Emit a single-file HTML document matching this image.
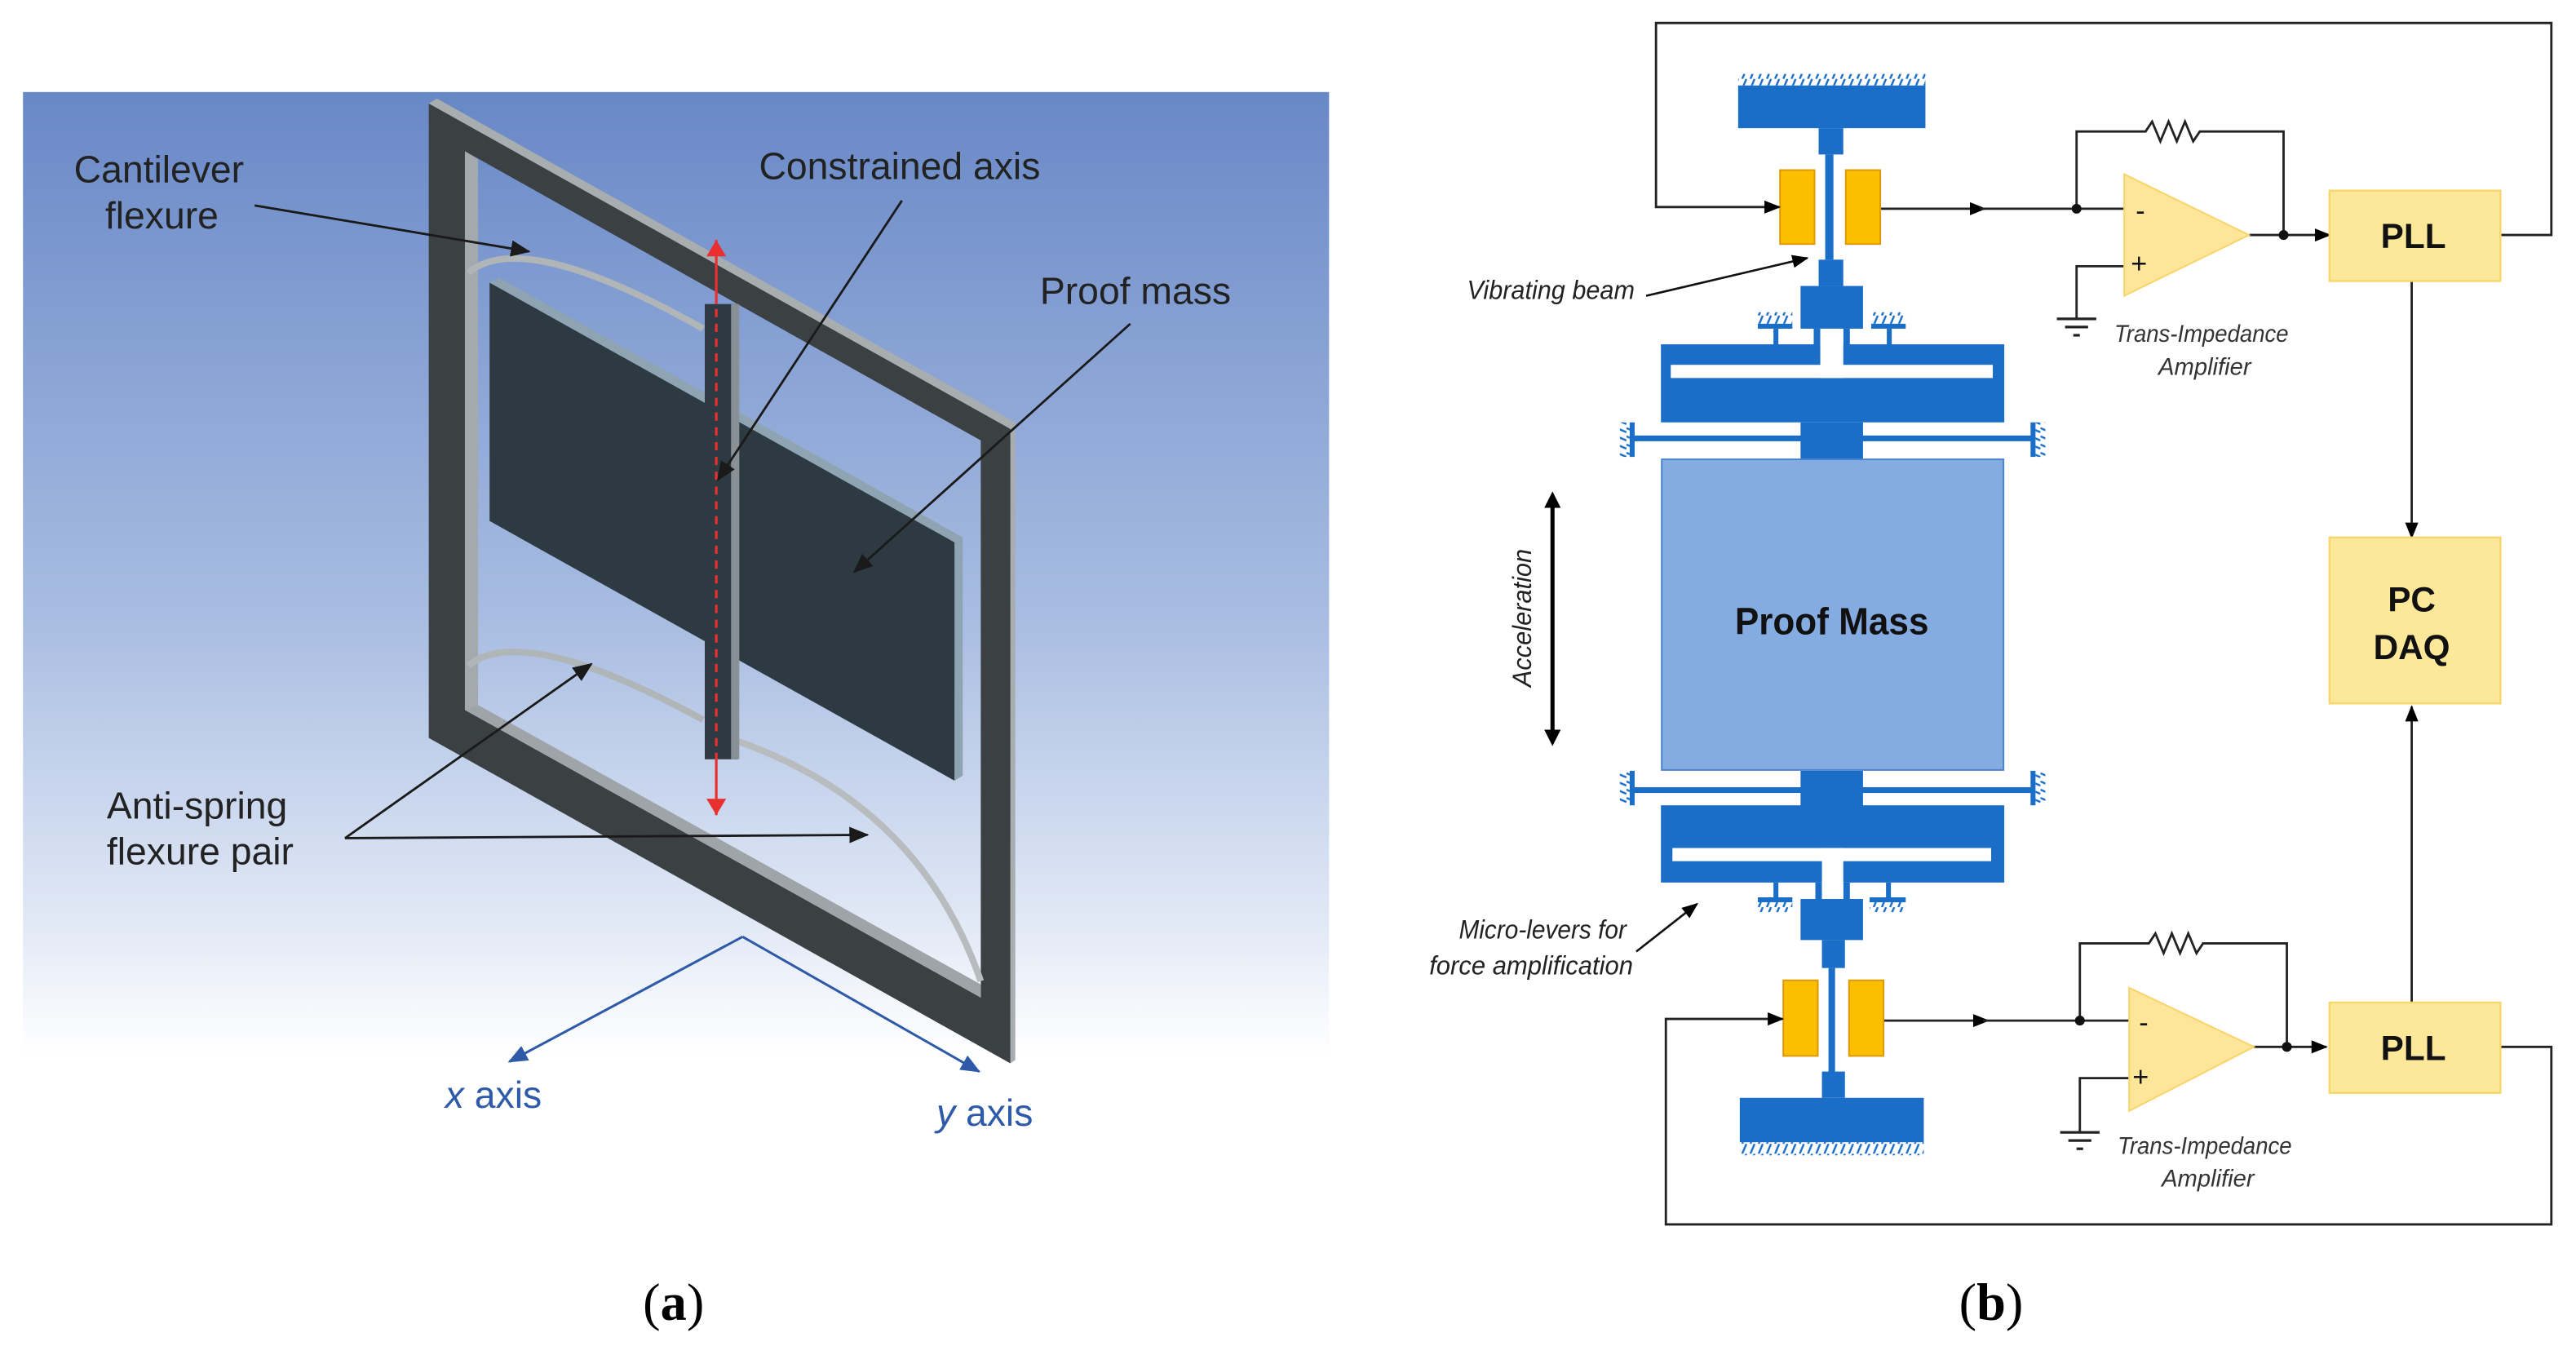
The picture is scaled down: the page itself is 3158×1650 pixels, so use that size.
<!DOCTYPE html>
<html><head><meta charset="utf-8"><style>
html,body{margin:0;padding:0;background:#fff;}
svg{display:block;}
text{font-family:"Liberation Sans",sans-serif;}
</style></head><body>
<svg width="3158" height="1650" viewBox="0 0 1568 819" preserveAspectRatio="none" xmlns="http://www.w3.org/2000/svg">
<defs>
<linearGradient id="bg" x1="0" y1="0" x2="0" y2="1">
<stop offset="0" stop-color="#6888c6"/>
<stop offset="0.55" stop-color="#a9bde2"/>
<stop offset="0.85" stop-color="#dfe7f5"/>
<stop offset="1" stop-color="#ffffff"/>
</linearGradient>
<pattern id="hatch" width="5" height="6" patternUnits="userSpaceOnUse">
<line x1="0.5" y1="6" x2="3" y2="0" stroke="#1b6ec8" stroke-width="1.2"/>
</pattern>
<pattern id="hatchv" width="6" height="5" patternUnits="userSpaceOnUse">
<line x1="0" y1="0.5" x2="6" y2="3" stroke="#1b6ec8" stroke-width="1.2"/>
</pattern>
<marker id="ab" markerWidth="10" markerHeight="8" refX="9" refY="4" orient="auto" markerUnits="userSpaceOnUse"><path d="M0,0 L10,4 L0,8 Z" fill="#000"/></marker>
<marker id="ak" markerWidth="12" markerHeight="10" refX="11" refY="5" orient="auto" markerUnits="userSpaceOnUse"><path d="M0,0 L12,5 L0,10 Z" fill="#1a1a1a"/></marker>
<marker id="ar" markerWidth="10" markerHeight="12" refX="10" refY="6" orient="auto" markerUnits="userSpaceOnUse"><path d="M0,0 L10,6 L0,12 Z" fill="#e83030"/></marker>
<marker id="abl" markerWidth="12" markerHeight="10" refX="11" refY="5" orient="auto" markerUnits="userSpaceOnUse"><path d="M0,0 L12,5 L0,10 Z" fill="#2e5aa8"/></marker>
</defs>

<!-- Panel (a) -->
<rect x="14" y="56" width="795" height="586" fill="url(#bg)"/>
<!-- frame -->
<polygon points="261,63 266,60 618,257 618,645 615,647 615,261" fill="#a8adb0"/>
<path fill="#3b4042" fill-rule="evenodd" d="M261,63 L615,261 L615,647 L261,449 Z M283,92 L283,432 L597,607 L597,268 Z"/>
<polygon points="283,92 291,97 291,432 283,432" fill="#a4a9ad"/>
<polygon points="283,432 597,607 597,599 291,429" fill="#9fa4a8"/>
<!-- flexures -->
<path d="M285,166 Q318,138 428,200" fill="none" stroke="#b0b5b8" stroke-width="4"/>
<path d="M285,405 Q318,378 428,438" fill="none" stroke="#b0b5b8" stroke-width="4"/>
<path d="M449,451 Q560,490 597,597" fill="none" stroke="#b8bcbf" stroke-width="4"/>
<!-- proof mass -->
<polygon points="298,172 304,169 586,327 586,472 581,475 581,330" fill="#8fa4b2"/>
<polygon points="298,172 581,330 581,475 298,317" fill="#2d3a42"/>
<rect x="429" y="185" width="20" height="277" fill="#2d3a42"/>
<rect x="445" y="185" width="5" height="277" fill="#8a9196"/>
<!-- red axis -->
<line x1="436" y1="188" x2="436" y2="462" stroke="#e83030" stroke-width="1.6" stroke-dasharray="5,4"/>
<line x1="436" y1="185" x2="436" y2="146" stroke="#e83030" stroke-width="1.6" marker-end="url(#ar)"/>
<line x1="436" y1="462" x2="436" y2="496" stroke="#e83030" stroke-width="1.6" marker-end="url(#ar)"/>
<!-- annotation arrows -->
<g stroke="#1a1a1a" stroke-width="1.4" fill="none">
<line x1="155" y1="125" x2="322" y2="153" marker-end="url(#ak)"/>
<line x1="549" y1="122" x2="437" y2="292" marker-end="url(#ak)"/>
<line x1="688" y1="197" x2="520" y2="348" marker-end="url(#ak)"/>
<line x1="210" y1="510" x2="360" y2="404" marker-end="url(#ak)"/>
<line x1="210" y1="510" x2="528" y2="508" marker-end="url(#ak)"/>
</g>
<g font-size="23" fill="#222">
<text x="45" y="111">Cantilever</text>
<text x="64" y="139">flexure</text>
<text x="462" y="109">Constrained axis</text>
<text x="633" y="185">Proof mass</text>
<text x="65" y="498">Anti-spring</text>
<text x="65" y="526">flexure pair</text>
</g>
<g stroke="#2e5aa8" stroke-width="1.5" fill="none">
<line x1="452" y1="570" x2="310" y2="646" marker-end="url(#abl)"/>
<line x1="452" y1="570" x2="596" y2="652" marker-end="url(#abl)"/>
</g>
<g font-size="23" fill="#2e5aa8">
<text x="271" y="674"><tspan font-style="italic">x</tspan> axis</text>
<text x="570" y="685"><tspan font-style="italic">y</tspan> axis</text>
</g>
<text x="410" y="803" font-size="32" text-anchor="middle" style="font-family:'Liberation Serif',serif">(<tspan font-weight="bold">a</tspan>)</text>

<!-- Panel (b) -->
<g fill="#1b6ec8">
<rect x="1058" y="45" width="114" height="7" fill="url(#hatch)"/>
<rect x="1058" y="52" width="114" height="26"/>
<rect x="1107" y="78" width="15" height="16"/>
<rect x="1111" y="94" width="5" height="64"/>
<rect x="1107" y="158" width="15" height="16"/>
<rect x="1096" y="174" width="38" height="26"/>
<rect x="1104" y="200" width="4" height="10"/>
<rect x="1122" y="200" width="4" height="10"/>
<rect x="1070" y="197" width="21" height="3"/>
<rect x="1070" y="190" width="21" height="7" fill="url(#hatch)"/>
<rect x="1079.5" y="200" width="3" height="10"/>
<rect x="1139" y="197" width="21" height="3"/>
<rect x="1139" y="190" width="21" height="7" fill="url(#hatch)"/>
<rect x="1148.5" y="200" width="3" height="10"/>
<rect x="1011" y="209.5" width="209" height="47.5"/>
<rect x="1096" y="257" width="38" height="24"/>
<rect x="994" y="265" width="243" height="3.5"/>
<rect x="992" y="257" width="3" height="21"/>
<rect x="986" y="257" width="6" height="21" fill="url(#hatchv)"/>
<rect x="1236" y="257" width="3" height="21"/>
<rect x="1239" y="257" width="6" height="21" fill="url(#hatchv)"/>
<rect x="1096" y="469" width="38" height="22"/>
<rect x="994" y="479" width="243" height="3.5"/>
<rect x="992" y="469" width="3" height="21"/>
<rect x="986" y="469" width="6" height="21" fill="url(#hatchv)"/>
<rect x="1236" y="469" width="3" height="21"/>
<rect x="1239" y="469" width="6" height="21" fill="url(#hatchv)"/>
<rect x="1011" y="490" width="209" height="47"/>
<rect x="1105" y="537" width="4" height="10"/>
<rect x="1122" y="537" width="4" height="10"/>
<rect x="1096" y="547" width="38" height="25"/>
<rect x="1109" y="572" width="14" height="17"/>
<rect x="1113" y="589" width="4" height="64"/>
<rect x="1109" y="652" width="14" height="16"/>
<rect x="1059" y="668" width="112" height="27"/>
<rect x="1059" y="695" width="112" height="8" fill="url(#hatch)"/>
<rect x="1070" y="546" width="21" height="3"/>
<rect x="1070" y="549" width="21" height="6" fill="url(#hatch)"/>
<rect x="1079.5" y="537" width="3" height="10"/>
<rect x="1138" y="546" width="22" height="3"/>
<rect x="1138" y="549" width="22" height="6" fill="url(#hatch)"/>
<rect x="1148" y="537" width="3" height="10"/>
</g>
<g fill="#fff">
<rect x="1017" y="222" width="196" height="8"/>
<rect x="1108" y="200" width="14" height="30"/>
<rect x="1018" y="516" width="194" height="8"/>
<rect x="1109" y="516" width="13" height="31"/>
</g>
<rect x="1011.5" y="279.5" width="208" height="189" fill="#85ace0" stroke="#4a84d0" stroke-width="1"/>
<text x="1115" y="386" font-size="23" font-weight="bold" text-anchor="middle" fill="#111" textLength="118" lengthAdjust="spacingAndGlyphs">Proof Mass</text>
<g fill="#fbbf00" stroke="#e09a00" stroke-width="1">
<rect x="1083.5" y="103.5" width="21" height="45"/>
<rect x="1123.5" y="103.5" width="21" height="45"/>
<rect x="1085.5" y="596.5" width="21" height="46"/>
<rect x="1125.5" y="596.5" width="21" height="46"/>
</g>
<line x1="945" y1="306" x2="945" y2="447" stroke="#000" stroke-width="2.5"/>
<path d="M945,299 L940,309 L950,309 Z M945,454 L940,444 L950,444 Z" fill="#000"/>
<text transform="translate(932,376) rotate(-90)" font-size="16" font-style="italic" text-anchor="middle" fill="#222" textLength="84" lengthAdjust="spacingAndGlyphs">Acceleration</text>
<g font-size="16" font-style="italic" fill="#222">
<text x="995" y="182" text-anchor="end" textLength="102" lengthAdjust="spacingAndGlyphs">Vibrating beam</text>
<text x="990" y="571" text-anchor="end" textLength="102" lengthAdjust="spacingAndGlyphs">Micro-levers for</text>
<text x="994" y="593" text-anchor="end" textLength="124" lengthAdjust="spacingAndGlyphs">force amplification</text>
</g>
<g stroke="#111" stroke-width="1.3" fill="none">
<line x1="1002" y1="180" x2="1100" y2="157" marker-end="url(#ab)"/>
<line x1="996" y1="579" x2="1033" y2="550" marker-end="url(#ab)"/>
</g>
<g stroke="#222" stroke-width="1.4" fill="none">
<polyline points="1521,143 1553,143 1553,14 1008,14 1008,126 1083,126" marker-end="url(#ab)"/>
<line x1="1145" y1="127" x2="1208" y2="127" marker-end="url(#ab)"/>
<line x1="1205" y1="127" x2="1294" y2="127"/>
<polyline points="1264,127 1264,80 1306,80 1310,74 1315,86 1320,74 1325,86 1330,74 1335,86 1339,80 1390,80 1390,143"/>
<line x1="1369" y1="143" x2="1418" y2="143" marker-end="url(#ab)"/>
<polyline points="1294,162 1264,162 1264,194"/>
<line x1="1468" y1="171" x2="1468" y2="327" marker-end="url(#ab)"/>
<line x1="1468" y1="613" x2="1468" y2="430" marker-end="url(#ab)"/>
<polyline points="1522,637 1553,637 1553,745 1014,745 1014,620 1085,620" marker-end="url(#ab)"/>
<line x1="1147" y1="621" x2="1210" y2="621" marker-end="url(#ab)"/>
<line x1="1207" y1="621" x2="1297" y2="621"/>
<polyline points="1266,621 1266,574 1308,574 1312,568 1317,580 1322,568 1327,580 1332,568 1337,580 1341,574 1392,574 1392,637"/>
<line x1="1371" y1="637" x2="1416" y2="637" marker-end="url(#ab)"/>
<polyline points="1297,656 1266,656 1266,689"/>
</g>
<g stroke="#222" stroke-width="1.6">
<line x1="1252" y1="194" x2="1276" y2="194"/><line x1="1257" y1="199" x2="1271" y2="199"/><line x1="1262" y1="204" x2="1266" y2="204"/>
<line x1="1254" y1="689" x2="1278" y2="689"/><line x1="1259" y1="694" x2="1273" y2="694"/><line x1="1264" y1="699" x2="1268" y2="699"/>
</g>
<g fill="#111"><circle cx="1264" cy="127" r="3"/><circle cx="1390" cy="143" r="3"/><circle cx="1266" cy="621" r="3"/><circle cx="1392" cy="637" r="3"/></g>
<g fill="#fde699" stroke="#f8d56a" stroke-width="1">
<polygon points="1293,106 1369,143 1293,180"/>
<polygon points="1296,601 1372,637 1296,676"/>
</g>
<g font-size="17" fill="#111">
<text x="1300" y="134">-</text><text x="1297" y="166">+</text>
<text x="1302" y="628">-</text><text x="1298" y="661">+</text>
</g>
<g font-size="14.5" font-style="italic" fill="#333" text-anchor="middle">
<text x="1340" y="208" textLength="106" lengthAdjust="spacingAndGlyphs">Trans-Impedance</text>
<text x="1342" y="228">Amplifier</text>
<text x="1342" y="702" textLength="106" lengthAdjust="spacingAndGlyphs">Trans-Impedance</text>
<text x="1344" y="722">Amplifier</text>
</g>
<g fill="#fde89a" stroke="#f9d66a" stroke-width="1.2">
<rect x="1418" y="116" width="104" height="55"/>
<rect x="1418" y="327" width="104" height="101"/>
<rect x="1418" y="610" width="104" height="55"/>
</g>
<g font-size="21" font-weight="bold" fill="#111" text-anchor="middle">
<text x="1469" y="151">PLL</text>
<text x="1468" y="372">PC</text>
<text x="1468" y="401">DAQ</text>
<text x="1469" y="645">PLL</text>
</g>
<text x="1212" y="803" font-size="32" text-anchor="middle" style="font-family:'Liberation Serif',serif">(<tspan font-weight="bold">b</tspan>)</text>
</svg>
</body></html>
